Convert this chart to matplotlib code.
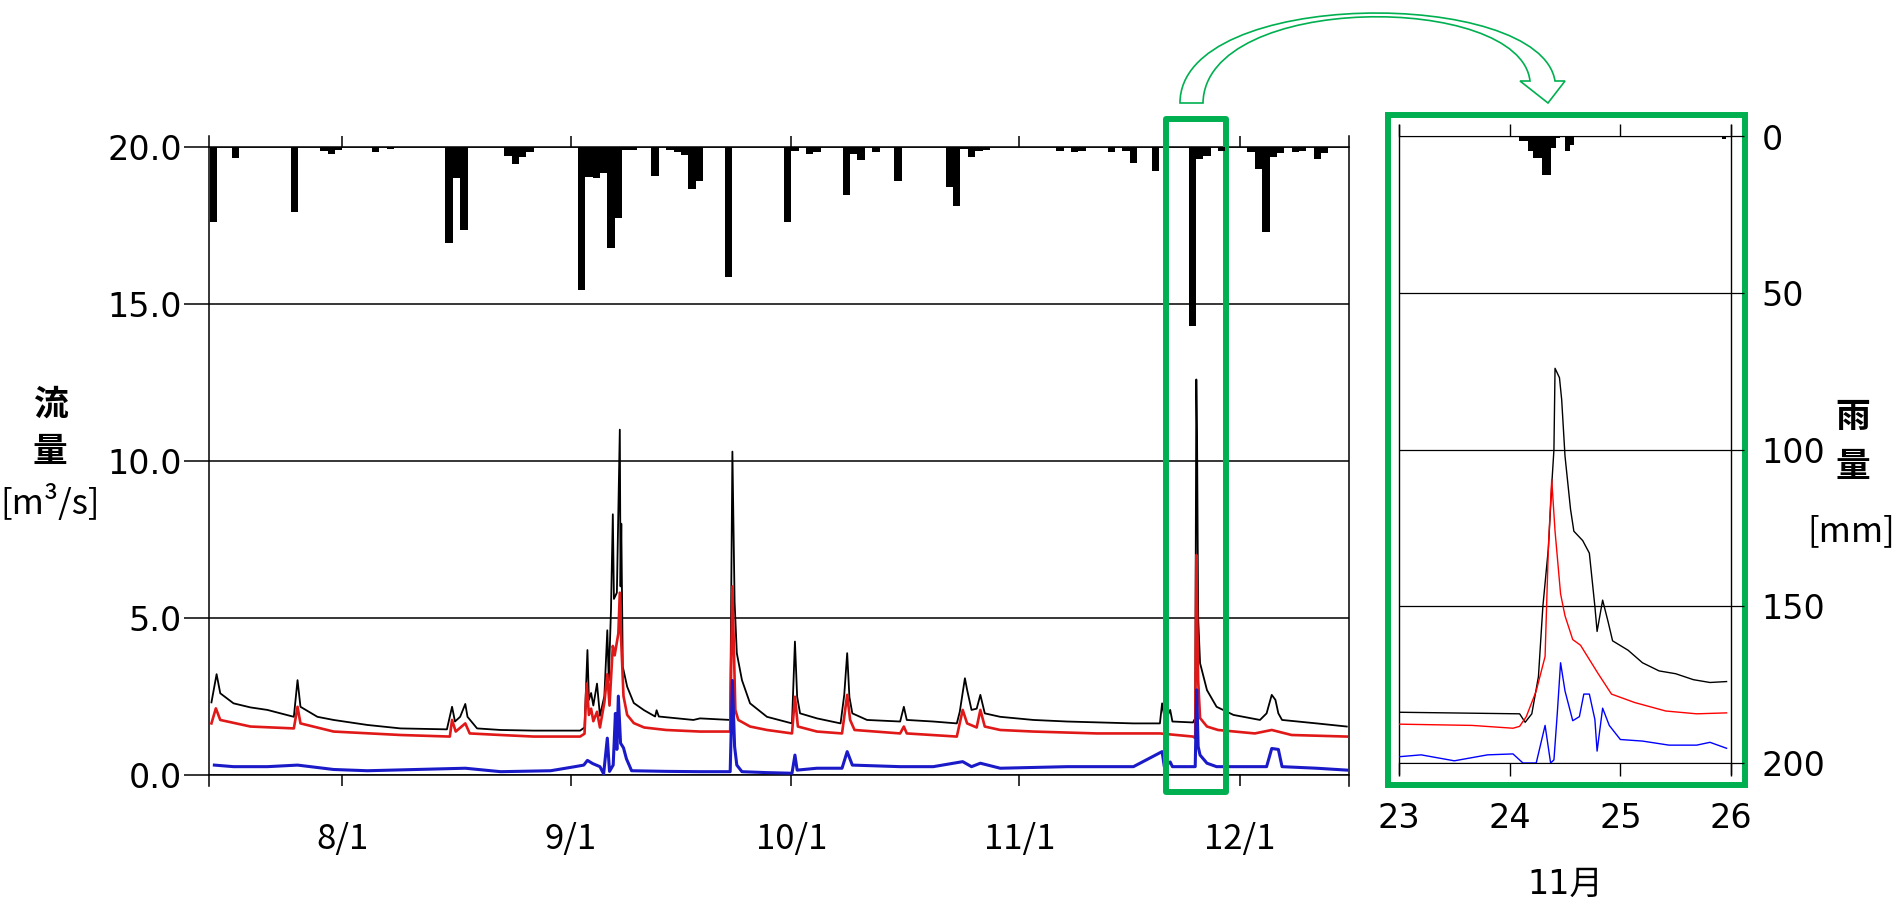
import matplotlib
matplotlib.use('Agg')
import matplotlib.pyplot as plt
from matplotlib.patches import Rectangle, PathPatch
from matplotlib.path import Path

plt.rcParams['font.family'] = ['DejaVu Sans', 'Noto Sans CJK JP']

# ---------------- main chart: x = days counted from 7/1 (7/1 = 0) ----------------
month_ticks = [31, 62, 92, 123, 153]
month_labels = ['8/1', '9/1', '10/1', '11/1', '12/1']
flow_ticks = [0, 5, 10, 15, 20]

# daily rainfall [mm], bar starts at day d
rain_day = [13, 16, 24, 28, 29, 30, 35, 37, 45, 46, 47, 53, 54, 55, 56,
            63, 64, 65, 66, 67, 68, 69, 70, 73, 75, 76, 77, 78, 79, 83,
            91, 92, 94, 95, 99, 100, 101, 103, 106, 113, 114, 115, 116, 117, 118,
            128, 130, 131, 135, 137, 138, 141, 146, 147, 148, 150, 154, 155, 156,
            157, 158, 160, 161, 163, 164]
rain_mm = [23.7, 3.3, 20.5, 1.0, 2.2, 0.8, 1.5, 0.5, 30.6, 9.6, 26.3, 2.6, 5.4, 3.0, 1.5,
           45.5, 9.3, 9.6, 8.0, 32.2, 22.6, 0.8, 0.8, 9.0, 0.8, 1.3, 2.4, 13.3, 10.6, 41.2,
           23.7, 1.0, 2.0, 1.5, 15.2, 2.2, 4.0, 1.5, 10.6, 12.5, 18.7, 0.5, 2.9, 1.0, 0.8,
           1.0, 1.5, 1.2, 1.3, 1.0, 4.8, 7.4, 57.0, 3.8, 2.6, 1.0, 1.3, 7.0, 26.9,
           2.9, 1.9, 1.5, 1.2, 3.8, 1.9]

# flow [m3/s] as (day, value)
black_flow = [(13.2, 2.3), (13.9, 3.2), (14.4, 2.59), (16.2, 2.27), (18.5, 2.14), (20.8, 2.06),
              (24.4, 1.84), (24.9, 3.01), (25.3, 2.16), (27.6, 1.84), (29.8, 1.74), (34.4, 1.58),
              (38.9, 1.47), (45.2, 1.44), (45.9, 2.16), (46.3, 1.69), (47.0, 1.84), (47.7, 2.25),
              (48.0, 1.84), (49.3, 1.47), (52.5, 1.42), (57.0, 1.40), (63.3, 1.40), (63.9, 1.5),
              (64.3, 3.97), (64.5, 2.38), (64.8, 2.6), (65.1, 2.2), (65.6, 2.9), (66.0, 1.87),
              (66.6, 2.5), (67.0, 4.6), (67.2, 3.0), (67.5, 5.25), (67.75, 8.3), (67.9, 5.6),
              (68.3, 5.8), (68.7, 11.0), (68.8, 6.0), (68.9, 8.0), (69.1, 3.44), (69.7, 2.8),
              (70.6, 2.28), (72.0, 2.05), (73.5, 1.85), (73.7, 2.05), (74.0, 1.85), (78.7, 1.74),
              (79.6, 1.79), (83.7, 1.74), (84.0, 10.3), (84.3, 5.5), (84.6, 3.87), (85.3, 3.01),
              (86.4, 2.27), (88.7, 1.84), (92.1, 1.63), (92.5, 4.24), (92.8, 2.48), (93.2, 1.95),
              (95.5, 1.79), (98.7, 1.63), (99.2, 2.54), (99.6, 3.87), (99.9, 2.48), (100.3, 1.95),
              (102.3, 1.74), (106.8, 1.69), (107.3, 2.16), (107.7, 1.74), (111.3, 1.69),
              (114.5, 1.63), (114.9, 2.0), (115.6, 3.07), (115.9, 2.7), (116.5, 2.06), (117.2, 2.1),
              (117.7, 2.54), (118.3, 1.95), (120.4, 1.84), (124.9, 1.74), (129.5, 1.69),
              (138.5, 1.63), (142.1, 1.63), (142.4, 2.27), (142.8, 1.7), (143.5, 2.06),
              (143.8, 1.69), (146.6, 1.66), (146.9, 1.8), (147.05, 12.6), (147.15, 10.8),
              (147.3, 5.0), (147.56, 3.55), (148.5, 2.69), (149.8, 2.16), (152.1, 1.9),
              (155.7, 1.74), (156.6, 1.95), (157.3, 2.54), (157.8, 2.38), (158.2, 1.95),
              (158.7, 1.74), (163.4, 1.63), (167.5, 1.53)]
red_flow = [(13.2, 1.63), (13.8, 2.11), (14.4, 1.74), (18.5, 1.53), (24.4, 1.47), (24.9, 2.16),
            (25.3, 1.63), (29.8, 1.37), (38.9, 1.26), (45.6, 1.21), (45.9, 1.74), (46.4, 1.37),
            (47.7, 1.63), (48.3, 1.31), (52.5, 1.26), (57.0, 1.21), (63.3, 1.21), (63.9, 1.3),
            (64.2, 2.9), (64.5, 1.9), (64.8, 2.1), (65.1, 1.7), (65.6, 2.0), (66.0, 1.5),
            (66.6, 2.3), (67.0, 3.2), (67.3, 2.2), (67.75, 4.1), (68.0, 3.8), (68.5, 4.5),
            (68.7, 5.8), (68.9, 4.2), (69.2, 2.5), (69.7, 1.9), (70.6, 1.64), (72.0, 1.5),
            (75.0, 1.42), (79.6, 1.37), (83.7, 1.37), (84.0, 6.0), (84.4, 2.06), (84.8, 1.74),
            (86.4, 1.53), (88.7, 1.42), (92.1, 1.31), (92.5, 2.48), (92.9, 1.53), (95.5, 1.37),
            (98.9, 1.31), (99.6, 2.54), (100.0, 1.74), (100.6, 1.42), (106.8, 1.31), (107.3, 1.53),
            (107.7, 1.31), (114.5, 1.21), (115.3, 2.06), (115.9, 1.63), (117.2, 1.5), (117.7, 2.06),
            (118.3, 1.53), (120.4, 1.42), (124.9, 1.37), (133.5, 1.31), (142.1, 1.31),
            (146.6, 1.21), (146.9, 1.16), (147.05, 7.0), (147.3, 3.0), (147.56, 1.8),
            (148.5, 1.53), (150.0, 1.42), (155.0, 1.31), (157.3, 1.42), (160.0, 1.26), (167.5, 1.21)]
blue_flow = [(13.6, 0.30), (16.2, 0.25), (20.8, 0.25), (24.9, 0.3), (29.8, 0.16), (34.4, 0.12),
             (47.7, 0.2), (52.5, 0.09), (59.3, 0.12), (62.6, 0.25), (63.8, 0.3), (64.3, 0.45),
             (65.0, 0.35), (66.0, 0.25), (66.5, 0.02), (67.0, 1.16), (67.3, 0.1), (67.8, 0.3),
             (68.1, 1.95), (68.3, 0.8), (68.5, 2.5), (68.8, 1.0), (69.2, 0.85), (69.6, 0.5),
             (70.3, 0.12), (75.0, 0.1), (79.6, 0.09), (83.7, 0.09), (84.0, 3.0), (84.3, 0.89),
             (84.6, 0.3), (85.3, 0.09), (88.7, 0.06), (92.1, 0.04), (92.5, 0.62), (92.8, 0.14),
             (95.5, 0.2), (98.9, 0.2), (99.6, 0.73), (100.3, 0.3), (106.8, 0.25), (111.3, 0.25),
             (115.3, 0.41), (116.5, 0.25), (117.7, 0.36), (120.4, 0.2), (129.5, 0.25),
             (138.5, 0.25), (142.4, 0.73), (142.7, 0.25), (143.5, 0.4), (143.8, 0.25),
             (146.6, 0.25), (146.9, 0.25), (147.1, 2.7), (147.3, 0.89), (147.56, 0.62),
             (148.5, 0.36), (149.8, 0.25), (156.6, 0.25), (157.3, 0.83), (158.2, 0.8),
             (158.7, 0.25), (163.4, 0.2), (167.5, 0.14)]

# ---------------- inset: 11/23 - 11/26 ----------------
inset_ticks = [23, 24, 25, 26]
rain_ticks = [0, 50, 100, 150, 200]
# hourly rainfall, hours counted from 11/23 0:00
rain_in_hour = [26, 27, 28, 29, 30, 31, 32, 33, 34, 36, 37, 70]
rain_in_mm = [1.5, 1.5, 4.6, 6.9, 6.9, 12.2, 12.2, 3.6, 0.5, 4.6, 2.7, 0.9]

black_in = [(23.0, 1.62), (24.09, 1.57), (24.14, 1.3), (24.2, 1.57), (24.26, 2.76), (24.3, 5.0),
            (24.35, 6.86), (24.38, 8.87), (24.4, 10.0), (24.41, 12.6), (24.45, 12.3), (24.47, 11.6),
            (24.5, 9.8), (24.55, 8.1), (24.58, 7.4), (24.66, 7.1), (24.72, 6.7), (24.77, 5.0),
            (24.79, 4.2), (24.84, 5.2), (24.89, 4.5), (24.93, 3.9), (25.07, 3.6), (25.2, 3.2),
            (25.35, 2.94), (25.5, 2.85), (25.66, 2.66), (25.81, 2.57), (25.96, 2.6)]
red_in = [(23.0, 1.24), (23.66, 1.2), (24.03, 1.11), (24.09, 1.17), (24.15, 1.48), (24.24, 2.3),
          (24.32, 3.4), (24.35, 6.9), (24.38, 9.05), (24.41, 7.4), (24.46, 5.4), (24.5, 4.7),
          (24.57, 3.94), (24.64, 3.76), (24.8, 2.85), (24.92, 2.2), (25.13, 1.93), (25.41, 1.66),
          (25.69, 1.57), (25.96, 1.6)]
blue_in = [(23.0, 0.2), (23.2, 0.26), (23.5, 0.07), (23.8, 0.26), (24.03, 0.29), (24.12, 0.0),
           (24.24, 0.0), (24.32, 1.2), (24.37, 0.0), (24.4, 0.1), (24.43, 1.57), (24.46, 3.2),
           (24.5, 2.3), (24.57, 1.35), (24.63, 1.48), (24.67, 2.2), (24.72, 2.2), (24.77, 1.39),
           (24.79, 0.38), (24.84, 1.75), (24.9, 1.2), (25.0, 0.75), (25.2, 0.7), (25.44, 0.57),
           (25.69, 0.57), (25.81, 0.66), (25.96, 0.47)]

GREEN = '#00b050'
W, H = 1901, 897


def box(l, t, r, b):
    # pixel box (top-left origin) -> figure rect
    return [l / W, 1 - b / H, (r - l) / W, (b - t) / H]


def xy(pts):
    return [p[0] for p in pts], [p[1] for p in pts]


fig = plt.figure(figsize=(W / 100, H / 100), dpi=100)

# ---- main axes ----
ax = fig.add_axes(box(208.5, 147.5, 1349, 774.5))
ax2 = ax.twinx()
ax2.set_zorder(ax.get_zorder() + 1)

x, y = xy(black_flow)
ax.plot(x, y, color='black', lw=1.3, zorder=3)
x, y = xy(red_flow)
ax.plot(x, y, color='#e01818', lw=1.9, zorder=4)
x, y = xy(blue_flow)
ax.plot(x, y, color='#1a1ac8', lw=2.2, zorder=5)

ax.set_xlim(12.8, 167.8)
ax.set_ylim(0, 20)
ax.set_yticks(flow_ticks)
ax.set_yticklabels([f'{v:.1f}' for v in flow_ticks])
ax.yaxis.grid(True, color='black', lw=1.1)
ax.set_xticks(month_ticks)
ax.set_xticklabels(month_labels, fontfamily='Noto Sans CJK JP')
ax.tick_params(axis='y', direction='out', length=18, width=1.1, pad=1, labelsize=24)
ax.tick_params(axis='x', direction='out', length=8, width=1.1, top=True, bottom=True,
               pad=26, labelsize=25)
for s in ('left', 'right'):
    ax.spines[s].set_visible(False)
for s in ('top', 'bottom'):
    ax.spines[s].set_linewidth(1.1)
for xx in (0, 1):
    ax.plot([xx, xx], [-0.019, 1.019], transform=ax.transAxes, color='black',
            lw=1.1, clip_on=False)

ax2.bar(rain_day, rain_mm, width=1, align='edge', color='black', lw=0)
ax2.set_ylim(200, 0)
ax2.set_yticks([])
for s in ax2.spines.values():
    s.set_visible(False)

# ---- inset axes ----
axi = fig.add_axes(box(1399, 136.5, 1731, 763))
axi2 = axi.twinx()
axi2.set_zorder(axi.get_zorder() + 1)

x, y = xy(black_in)
axi.plot(x, y, color='black', lw=1.0, zorder=3)
x, y = xy(red_in)
axi.plot(x, y, color='#ff0000', lw=1.0, zorder=4)
x, y = xy(blue_in)
axi.plot(x, y, color='#0000ff', lw=1.0, zorder=5)

axi.set_xlim(23, 26)
axi.set_ylim(0, 20)
axi.set_yticks(flow_ticks)
axi.yaxis.grid(True, color='black', lw=0.9)
axi.tick_params(axis='y', left=False, labelleft=False)
axi.set_xticks(inset_ticks)
axi.tick_params(axis='x', direction='out', length=9, width=1.0, top=True, bottom=True,
                pad=19, labelsize=24)
for s in ('left', 'right'):
    axi.spines[s].set_visible(False)
for xx in (0, 1):
    axi.plot([xx, xx], [-0.018, 1.018], transform=axi.transAxes, color='black',
             lw=1.0, clip_on=False)

axi2.bar([23 + h / 24 for h in rain_in_hour], rain_in_mm, width=1 / 24, align='edge',
         color='black', lw=0)
axi2.set_ylim(200, 0)
axi2.set_yticks(rain_ticks)
axi2.tick_params(axis='y', direction='out', length=9, width=0.9, pad=13, labelsize=24)
for s in axi2.spines.values():
    s.set_visible(False)

# ---- green frames and arrow ----
fig.add_artist(Rectangle((1166 / W, 1 - 792 / H), (1225.5 - 1166) / W, (792 - 118.7) / H,
                         transform=fig.transFigure, fill=False, ec=GREEN, lw=4.3,
                         joinstyle='round'))
fig.add_artist(Rectangle((1388 / W, 1 - 785 / H), (1744.5 - 1388) / W, (785 - 115.5) / H,
                         transform=fig.transFigure, fill=False, ec=GREEN, lw=4.3))

arrow_px = [(1203, 103), (1180, 103),
            (1180, -13), (1540, -13), (1555, 81),
            (1565, 81), (1548, 103), (1520, 81), (1530, 81),
            (1520, -8), (1205, -8), (1203, 103),
            (1203, 103)]
codes = [Path.MOVETO, Path.LINETO,
         Path.CURVE4, Path.CURVE4, Path.CURVE4,
         Path.LINETO, Path.LINETO, Path.LINETO, Path.LINETO,
         Path.CURVE4, Path.CURVE4, Path.CURVE4,
         Path.CLOSEPOLY]
arrow = Path([(px / W, 1 - py / H) for px, py in arrow_px], codes)
fig.add_artist(PathPatch(arrow, transform=fig.transFigure, fc='white', ec=GREEN, lw=1.2))

# ---- axis titles ----
cjk = 'Noto Sans CJK JP'
fig.text(50 / W, 1 - 404 / H, '流', ha='center', va='center', fontsize=25,
         fontweight='bold', family=cjk)
fig.text(50 / W, 1 - 451 / H, '量', ha='center', va='center', fontsize=25,
         fontweight='bold', family=cjk)
fig.text(50 / W, 1 - 503 / H, '[m³/s]', ha='center', va='center', fontsize=25, family=cjk)
fig.text(1853 / W, 1 - 416 / H, '雨', ha='center', va='center', fontsize=25,
         fontweight='bold', family=cjk)
fig.text(1853 / W, 1 - 466 / H, '量', ha='center', va='center', fontsize=25,
         fontweight='bold', family=cjk)
fig.text(1851 / W, 1 - 532 / H, '[mm]', ha='center', va='center', fontsize=25, family=cjk)
fig.text(1565 / W, 1 - 884 / H, '11月', ha='center', va='center', fontsize=24)

fig.savefig('out.png', dpi=100)
